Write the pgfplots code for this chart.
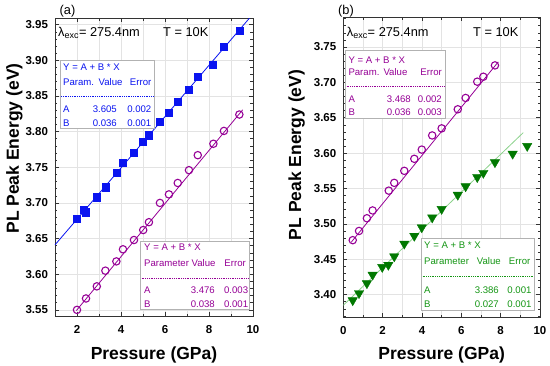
\documentclass[border=0pt]{standalone}
\usepackage{fontspec}
\setmainfont{Liberation Sans}
\usepackage{pgfplots}
\pgfplotsset{compat=1.18}
\definecolor{myblue}{RGB}{10,20,240}
\definecolor{mypurple}{RGB}{150,0,150}
\definecolor{mygreen}{RGB}{0,120,0}
\definecolor{lgreen}{RGB}{140,210,140}
\definecolor{tgreen}{RGB}{20,150,20}

\pgfplotsset{
  mystyle/.style={
    scale only axis, anchor=south west,
    axis line style={line width=0.8pt, black!80},
    tick style={black!80, line width=0.6pt},
    major tick length=4pt, minor tick length=2.5pt,
    tick align=inside,
    xtick distance=2, minor x tick num=1,
    ytick distance=0.05, minor y tick num=4,
    xmajorgrids, xminorgrids, ymajorgrids,
    grid style={gray!22, line width=0.5pt},
    minor grid style={gray!22, line width=0.5pt},
    /pgf/number format/assume math mode=true,
    tick label style={font=\fontsize{11.5}{13}\selectfont\bfseries},
    y tick label style={/pgf/number format/fixed, /pgf/number format/fixed zerofill, /pgf/number format/precision=2, xshift=-3.5pt},
    x tick label style={yshift=-5.5pt},
    xlabel style={font=\fontsize{17.5}{20}\selectfont\bfseries, anchor=center, text height=12.5pt, text depth=0pt},
    ylabel style={font=\fontsize{17.5}{20}\selectfont\bfseries, anchor=center, text height=12.5pt, text depth=0pt},
    xlabel={Pressure (GPa)}, ylabel={PL Peak Energy (eV)},
  },
}
\tikzset{lt/.style={font=\fontsize{9.6}{11}\selectfont, inner sep=0pt, text height=6.9pt, text depth=0pt},
         ann/.style={anchor=west, inner sep=0pt, font=\fontsize{12.8}{14}\selectfont, text height=9.2pt, text depth=0pt}}

\pgfplotstableread{
x y
2.00 3.678
2.30 3.690
2.41 3.687
2.90 3.708
3.29 3.722
3.79 3.742
4.09 3.757
4.59 3.771
4.99 3.786
5.27 3.795
5.77 3.814
6.18 3.827
6.58 3.842
7.09 3.859
7.49 3.877
8.17 3.894
8.68 3.919
9.38 3.942
}\blueA

\pgfplotstableread{
x y
2.00 3.550
2.41 3.566
2.90 3.583
3.29 3.605
3.79 3.618
4.09 3.635
4.59 3.648
5.01 3.662
5.27 3.673
5.77 3.700
6.18 3.712
6.58 3.728
7.09 3.746
7.49 3.767
8.20 3.783
8.68 3.801
9.38 3.824
}\purpleA

\pgfplotstableread{
x y
0.48 3.477
0.80 3.490
1.20 3.508
1.49 3.519
2.31 3.547
2.59 3.558
3.10 3.575
3.61 3.592
3.99 3.605
4.52 3.625
5.00 3.635
5.82 3.662
6.22 3.678
6.81 3.701
7.12 3.708
7.71 3.724
}\purpleB

\pgfplotstableread{
x y
0.48 3.392
0.80 3.402
1.20 3.416
1.49 3.428
1.98 3.439
2.29 3.442
2.59 3.454
3.10 3.472
3.61 3.483
3.99 3.495
4.52 3.509
5.00 3.521
5.82 3.541
6.22 3.553
6.81 3.566
7.12 3.572
7.71 3.587
8.61 3.599
9.35 3.610
}\greenB

\begin{document}
\begin{tikzpicture}
\path[use as bounding box] (0,0) rectangle (550pt,366pt);

% ---------------- panel (a)
\begin{axis}[mystyle,
  at={(55pt,49.7pt)}, width=198pt, height=298pt,
  xmin=1, xmax=10, ymin=3.541, ymax=3.959,
  xlabel style={at={(axis description cs:0.5,-0.1232)}},
  ylabel style={at={(axis description cs:-0.2146,0.563)}},
]
\addplot[myblue, line width=0.8pt, forget plot] coordinates {(1,3.6412) (10,3.965)};
\addplot[mypurple, line width=0.8pt, forget plot] coordinates {(1.97,3.549) (9.53,3.8306)};
\addplot[only marks, mark=square*, mark size=3.6pt, color=myblue] table[x=x,y=y] {\blueA};
\addplot[only marks, mark=o, mark size=3.7pt, color=mypurple, mark options={fill=white, line width=1.1pt}] table[x=x,y=y] {\purpleA};
\end{axis}

% ---------------- panel (b)
\begin{axis}[mystyle,
  at={(343.3pt,48.7pt)}, width=196.7pt, height=300pt,
  xmin=0, xmax=10, ymin=3.368, ymax=3.792,
  xlabel style={at={(axis description cs:0.5,-0.119)}},
  ylabel style={at={(axis description cs:-0.2456,0.541)}},
]
\addplot[mypurple, line width=0.8pt, forget plot] coordinates {(0.4,3.474) (7.88,3.729)};
\addplot[lgreen, line width=0.8pt, forget plot] coordinates {(0,3.385) (9.15,3.629)};
\addplot[only marks, mark=o, mark size=3.7pt, color=mypurple, mark options={fill=white, line width=1.1pt}] table[x=x,y=y] {\purpleB};
\addplot[only marks, mark=triangle*, mark size=5.4pt, color=mygreen, mark options={rotate=180}] table[x=x,y=y] {\greenB};
\end{axis}

\begin{scope}[x=1pt, y=-1pt, shift={(0pt,366pt)}]
% panel labels and annotations
\node[ann] at (59.5,10) {(a)};
\node[ann] at (338,10) {(b)};
\node[ann] at (58,32) {λ\textsubscript{exc}= 275.4nm};
\node[ann] at (163,32) {T = 10K};
\node[ann] at (346.7,32) {λ\textsubscript{exc}= 275.4nm};
\node[ann] at (473,32) {T = 10K};

% blue box (a)
\draw[gray!60, fill=white, line width=0.6pt] (60,60.7) rectangle (154,128);
\node[lt, anchor=west, text=myblue] at (63,66.7) {Y = A + B * X};
\node[lt, anchor=west, text=myblue] at (63,82) {Param.};
\node[lt, anchor=west, text=myblue] at (98.5,82) {Value};
\node[lt, anchor=east, text=myblue] at (151.5,82) {Error};
\draw[myblue, line width=0.6pt, dash pattern=on 1pt off 0.8pt] (61,96.7) -- (153,96.7);
\node[lt, anchor=west, text=myblue] at (63,109) {A};
\node[lt, anchor=east, text=myblue] at (117,109) {3.605};
\node[lt, anchor=east, text=myblue] at (151.5,109) {0.002};
\node[lt, anchor=west, text=myblue] at (63,123) {B};
\node[lt, anchor=east, text=myblue] at (117,123) {0.036};
\node[lt, anchor=east, text=myblue] at (151.5,123) {0.001};

% purple box (a)
\draw[gray!60, fill=white, line width=0.6pt] (140.7,241.3) rectangle (249.3,309);
\node[lt, anchor=west, text=mypurple] at (144,247.5) {Y = A + B * X};
\node[lt, anchor=west, text=mypurple] at (144,263) {Parameter};
\node[lt, anchor=west, text=mypurple] at (191.5,263) {Value};
\node[lt, anchor=east, text=mypurple] at (246,263) {Error};
\draw[mypurple, line width=0.6pt, dash pattern=on 1pt off 0.8pt] (141.5,278) -- (248.5,278);
\node[lt, anchor=west, text=mypurple] at (144,290) {A};
\node[lt, anchor=east, text=mypurple] at (215,290) {3.476};
\node[lt, anchor=east, text=mypurple] at (248.3,290) {0.003};
\node[lt, anchor=west, text=mypurple] at (144,304) {B};
\node[lt, anchor=east, text=mypurple] at (215,304) {0.038};
\node[lt, anchor=east, text=mypurple] at (248.3,304) {0.001};

% purple box (b)
\draw[gray!60, fill=white, line width=0.6pt] (345.7,50) rectangle (445.7,118.3);
\node[lt, anchor=west, text=mypurple] at (348.3,60) {Y = A + B * X};
\node[lt, anchor=west, text=mypurple] at (348.3,71.7) {Param.};
\node[lt, anchor=west, text=mypurple] at (383.3,71.7) {Value};
\node[lt, anchor=east, text=mypurple] at (442,71.7) {Error};
\draw[mypurple, line width=0.6pt, dash pattern=on 1pt off 0.8pt] (346.5,86) -- (445,86);
\node[lt, anchor=west, text=mypurple] at (348.3,98.7) {A};
\node[lt, anchor=east, text=mypurple] at (411,98.7) {3.468};
\node[lt, anchor=east, text=mypurple] at (442,98.7) {0.002};
\node[lt, anchor=west, text=mypurple] at (348.3,111.7) {B};
\node[lt, anchor=east, text=mypurple] at (411,111.7) {0.036};
\node[lt, anchor=east, text=mypurple] at (442,111.7) {0.003};

% green box (b)
\draw[gray!60, fill=white, line width=0.6pt] (421.7,238) rectangle (534.3,310.7);
\node[lt, anchor=west, text=tgreen] at (424,245) {Y = A + B * X};
\node[lt, anchor=west, text=tgreen] at (424,261) {Parameter};
\node[lt, anchor=west, text=tgreen] at (476.7,261) {Value};
\node[lt, anchor=east, text=tgreen] at (530.5,261) {Error};
\draw[tgreen, line width=0.6pt, dash pattern=on 1pt off 0.8pt] (422.5,276) -- (533.5,276);
\node[lt, anchor=west, text=tgreen] at (424,290) {A};
\node[lt, anchor=east, text=tgreen] at (499,290) {3.386};
\node[lt, anchor=east, text=tgreen] at (531.7,290) {0.001};
\node[lt, anchor=west, text=tgreen] at (424,304) {B};
\node[lt, anchor=east, text=tgreen] at (499,304) {0.027};
\node[lt, anchor=east, text=tgreen] at (531.7,304) {0.001};
\end{scope}
\end{tikzpicture}
\end{document}
